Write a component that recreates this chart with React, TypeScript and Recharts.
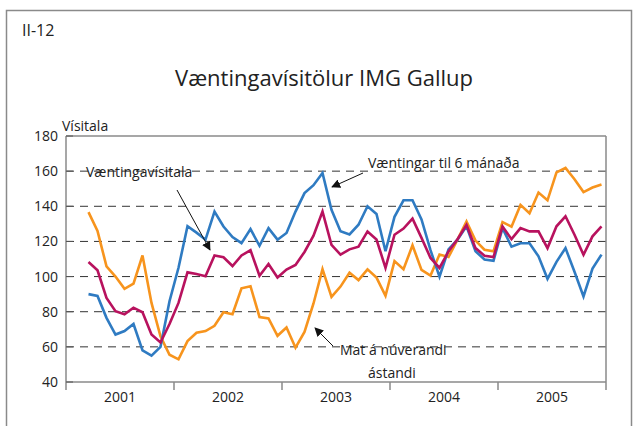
import { LineChart, Line, XAxis, YAxis, ReferenceLine } from 'recharts'

const months = [
  '2001-03', '2001-04', '2001-05', '2001-06', '2001-07', '2001-08', '2001-09', '2001-10', '2001-11', '2001-12',
  '2002-01', '2002-02', '2002-03', '2002-04', '2002-05', '2002-06', '2002-07', '2002-08', '2002-09', '2002-10', '2002-11', '2002-12',
  '2003-01', '2003-02', '2003-03', '2003-04', '2003-05', '2003-06', '2003-07', '2003-08', '2003-09', '2003-10', '2003-11', '2003-12',
  '2004-01', '2004-02', '2004-03', '2004-04', '2004-05', '2004-06', '2004-07', '2004-08', '2004-09', '2004-10', '2004-11', '2004-12',
  '2005-01', '2005-02', '2005-03', '2005-04', '2005-05', '2005-06', '2005-07', '2005-08', '2005-09', '2005-10', '2005-11', '2005-12',
]

// Væntingar til 6 mánaða
const expectations = [
  90, 89, 76.5, 67, 69, 73, 58, 55, 60, 86,
  105, 128.7, 125, 121, 137, 128.5, 122.5, 119, 127, 117.5, 127.5, 121,
  124.8, 137, 147.5, 152, 159, 138, 125.8, 124, 129.5, 140, 135.6, 114.4,
  134, 143.4, 143.4, 132.5, 115, 100, 115.4, 121, 128.6, 114.4, 109.7, 109,
  127.5, 117, 119, 119, 111.5, 98.7, 108.4, 116.2, 102.7, 88.7, 104.5, 112.5,
]

// Væntingavísitala
const index = [
  108.3, 103.6, 87.8, 80.3, 78.5, 82.3, 79.7, 67, 62.5, 73,
  85, 102.4, 101.5, 100.2, 112, 111, 106, 112, 115, 100.5, 107.2, 99.5,
  104, 106.6, 114, 123.3, 137, 118.1, 112.5, 115.5, 117, 125.7, 121.1, 105,
  123.8, 127.3, 133, 122, 110.6, 104.9, 114.3, 121.3, 129.4, 116.2, 111.9, 111.1,
  128.5, 121.3, 127.6, 125.7, 125.7, 116.2, 128.6, 134.3, 123.8, 112.4, 122.9, 128.6,
]

// Mat á núverandi ástandi
const present = [
  136.7, 126, 105.8, 100, 93, 96, 112, 85, 66, 55.5,
  52.9, 63.3, 68, 69, 72, 79.7, 78.6, 93.3, 94.5, 77, 76.2, 66.3,
  71, 59.5, 68.5, 84.7, 104.2, 88.4, 94.3, 102.2, 98, 104.1, 99.4, 89,
  108.8, 104.2, 117.8, 103.8, 100.6, 112.5, 111.1, 121, 131.4, 120.5, 115.3, 114.4,
  131, 128.4, 140.8, 136, 147.8, 143.4, 159.3, 161.8, 155.4, 148.1, 150.7, 152.4,
]

const years = ['2001', '2002', '2003', '2004', '2005']
const yTicks = [40, 60, 80, 100, 120, 140, 160, 180]
const gridValues = [60, 80, 100, 120, 140, 160]

const data = months.map((m, i) => {
  const [y, mo] = m.split('-').map(Number)
  return {
    x: (y - 2001) * 12 + (mo - 1) + 0.5,
    expectations: expectations[i],
    index: index[i],
    present: present[i],
  }
})

const xTicks = [0, 6, 12, 18, 24, 30, 36, 42, 48, 54, 60]

const FONT = '"Open Sans", sans-serif'
const PLOT_LEFT = 66
const FRAME = '#8a8a8a'

const YTick = (props: any) => {
  const { y, payload } = props
  return (
    <g>
      <line x1={PLOT_LEFT} x2={PLOT_LEFT + 7} y1={y} y2={y} stroke="#555" strokeWidth={1} />
      <text x={58} y={y} dy={5} textAnchor="end" fontSize={14} fill="#222" fontFamily={FONT}>
        {payload.value}
      </text>
    </g>
  )
}

const XTick = (props: any) => {
  const { x, y, payload } = props
  const v = payload.value
  if (v % 12 === 0) {
    return <line x1={x} x2={x} y1={y} y2={y + 8} stroke={FRAME} strokeWidth={1.5} />
  }
  return (
    <text x={x} y={y + 20} textAnchor="middle" fontSize={14} fill="#222" fontFamily={FONT}>
      {years[Math.floor(v / 12)]}
    </text>
  )
}

export default function App() {
  return (
    <div style={{ position: 'absolute', left: 0, top: 0, width: 638, height: 426, background: '#fff', overflow: 'hidden' }}>
      <LineChart width={638} height={426} data={data} margin={{ top: 136, right: 32, bottom: 14, left: 0 }}>
        <XAxis
          dataKey="x"
          type="number"
          domain={[0, 60]}
          ticks={xTicks}
          interval={0}
          tick={<XTick />}
          tickLine={false}
          tickSize={0}
          tickMargin={0}
          height={30}
          axisLine={{ stroke: FRAME, strokeWidth: 1.5 }}
        />
        <YAxis
          domain={[40, 180]}
          ticks={yTicks}
          interval={0}
          width={66}
          tick={<YTick />}
          tickLine={false}
          axisLine={{ stroke: FRAME, strokeWidth: 1.5 }}
        />
        {gridValues.map((v) => (
          <ReferenceLine key={v} y={v} stroke="#333" strokeDasharray="8 6" strokeWidth={1} />
        ))}
        <ReferenceLine y={180} stroke={FRAME} strokeWidth={1.5} />
        <ReferenceLine x={60} stroke={FRAME} strokeWidth={1.5} />
        <Line dataKey="present" stroke="#f7941d" strokeWidth={2.6} dot={false} isAnimationActive={false} />
        <Line dataKey="expectations" stroke="#2f7bc2" strokeWidth={2.6} dot={false} isAnimationActive={false} />
        <Line dataKey="index" stroke="#b8125e" strokeWidth={2.6} dot={false} isAnimationActive={false} />
      </LineChart>
      <svg width={638} height={426} style={{ position: 'absolute', left: 0, top: 0, pointerEvents: 'none' }}>
        <defs>
          <marker id="head" viewBox="0 0 10 10" refX="9" refY="5" markerWidth="9" markerHeight="9" orient="auto-start-reverse" markerUnits="userSpaceOnUse">
            <path d="M0,0 L10,5 L0,10 z" fill="#111" />
          </marker>
        </defs>
        <rect x={6.5} y={10.5} width={625} height={440} fill="none" stroke={FRAME} strokeWidth={1.5} />
        <g fontFamily={FONT} fill="#222">
          <text x={22} y={36} fontSize={16}>II-12</text>
          <text x={324} y={86} fontSize={22} textAnchor="middle">Væntingavísitölur IMG Gallup</text>
          <text x={62} y={131} fontSize={14}>Vísitala</text>
          <text x={86} y={177} fontSize={14}>Væntingavísitala</text>
          <text x={368} y={168} fontSize={14}>Væntingar til 6 mánaða</text>
          <text x={340} y={355} fontSize={14}>Mat á núverandi</text>
          <text x={368} y={378} fontSize={14}>ástandi</text>
        </g>
        <line x1={177} y1={190} x2={210} y2={250} stroke="#111" strokeWidth={1} markerEnd="url(#head)" />
        <line x1={363} y1={173} x2={332} y2={187} stroke="#111" strokeWidth={1} markerEnd="url(#head)" />
        <line x1={333} y1={346} x2={315} y2={328} stroke="#111" strokeWidth={1} markerEnd="url(#head)" />
      </svg>
    </div>
  )
}
